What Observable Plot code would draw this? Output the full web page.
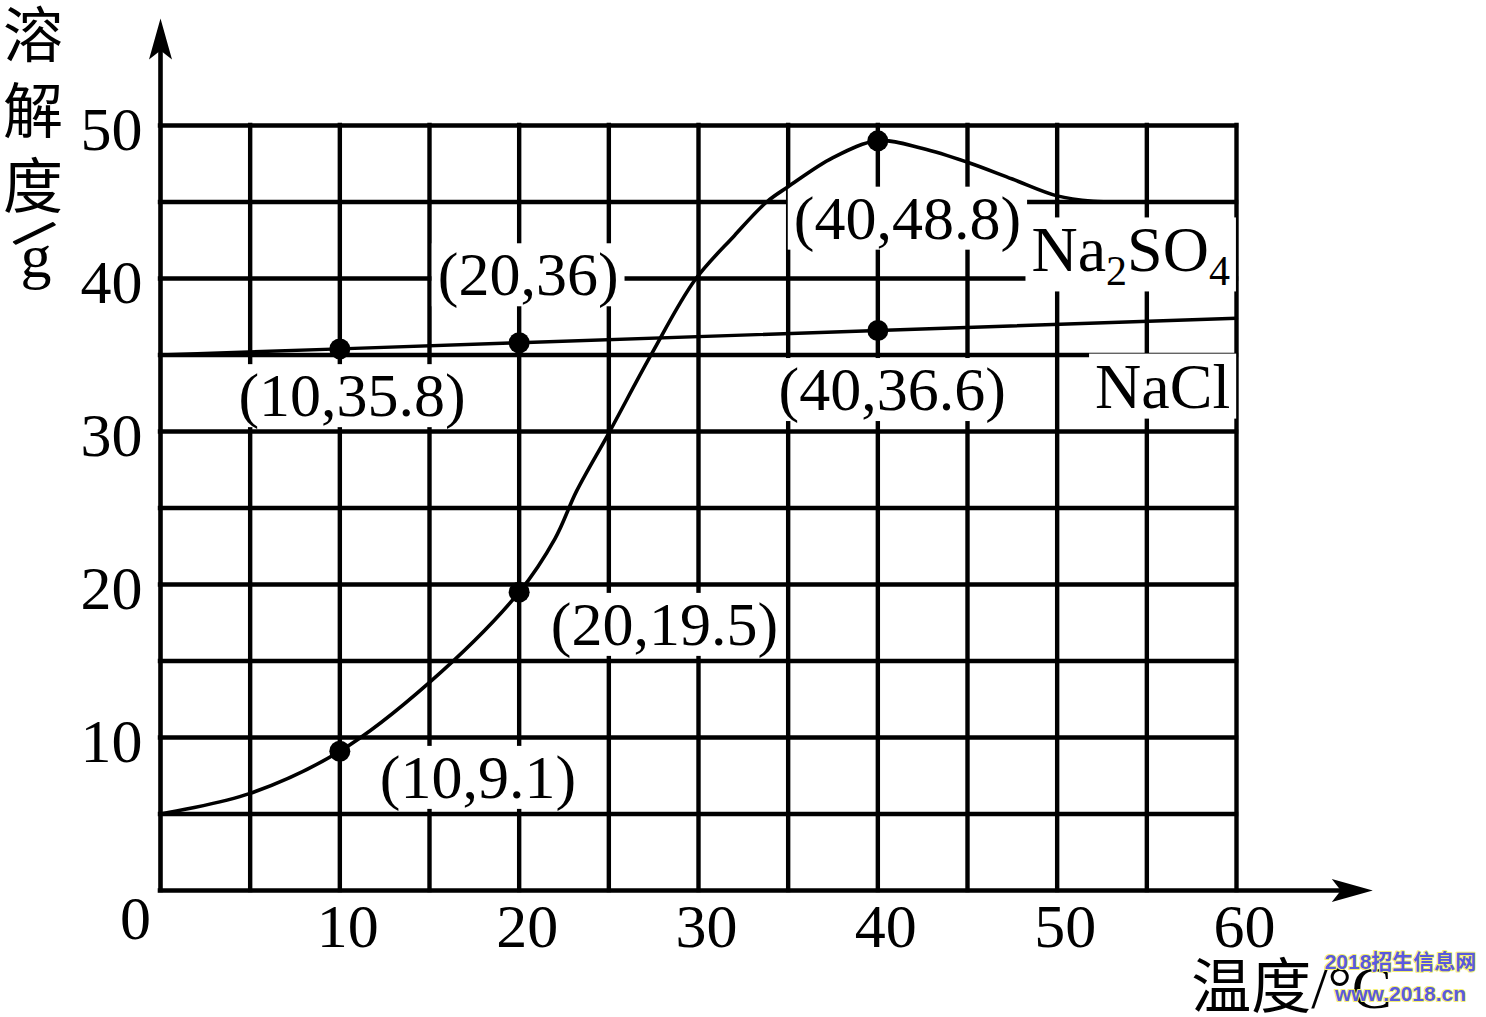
<!DOCTYPE html>
<html>
<head>
<meta charset="utf-8">
<script src="https://cdn.jsdelivr.net/npm/d3@7"></script>
<script src="https://cdn.jsdelivr.net/npm/@observablehq/plot@0.6"></script>
<style>
  html, body { margin: 0; padding: 0; background: #ffffff; }
  #chart svg { display: block; }
</style>
</head>
<body>
<div id="chart"></div>
<script>
// ---------- data ----------
const gridX = [5, 10, 15, 20, 25, 30, 35, 40, 45, 50, 55, 60];
const gridY = [5, 10, 15, 20, 25, 30, 35, 40, 45, 50];
const xTickLabels = [10, 20, 30, 40, 50, 60];
const yTickLabels = [10, 20, 30, 40, 50];

// Na2SO4 solubility curve (temperature °C, solubility g)
const na2so4Temp = [0, 5, 10, 15, 20, 22, 23.2, 25, 27.4, 29.8, 32, 33.8, 35, 37.5, 40, 42.5, 45, 47.5, 50, 52, 53.5];
const na2so4Sol  = [5.0, 6.35, 9.1, 13.6, 19.5, 23.0, 26.1, 29.9, 35.1, 39.9, 42.8, 45.0, 46.0, 47.9, 49.0, 48.5, 47.6, 46.5, 45.4, 45.05, 45.0];
const na2so4MarkTemp = [10, 20, 40];
const na2so4MarkSol  = [9.1, 19.5, 49.0];

// NaCl solubility line
const naclTemp = [0, 10, 20, 40, 60];
const naclSol  = [35.0, 35.4, 35.8, 36.6, 37.4];
const naclMarkTemp = [10, 20, 40];
const naclMarkSol  = [35.4, 35.8, 36.6];

// point annotations
const pointLabelText = ["(10,9.1)", "(20,19.5)", "(40,48.8)", "(10,35.8)", "(20,36)", "(40,36.6)"];
const pointLabelX    = [17.7, 28.1, 41.65, 10.68, 20.5, 40.8];
const pointLabelY    = [7.35, 17.35, 43.9, 32.3, 40.2, 32.7];

// series names
const seriesLabelText = ["Na2SO4", "NaCl"];
const seriesLabelX    = [54.1, 55.88];
const seriesLabelY    = [41.8, 32.9];

// axis arrow ends
const yArrowTip = 57.0;
const xArrowTip = 67.6;

// ---------- tables ----------
const na2so4 = na2so4Temp.map((t, i) => ({t, s: na2so4Sol[i]}));
const na2so4Marks = na2so4MarkTemp.map((t, i) => ({t, s: na2so4MarkSol[i]}));
const nacl = naclTemp.map((t, i) => ({t, s: naclSol[i]}));
const naclMarks = naclMarkTemp.map((t, i) => ({t, s: naclMarkSol[i]}));
const pointLabels = pointLabelText.map((text, i) => ({text, x: pointLabelX[i], y: pointLabelY[i]}));
const seriesLabels = seriesLabelText.map((text, i) => ({text, x: seriesLabelX[i], y: seriesLabelY[i]}));

const SERIF = "'Liberation Serif', 'Times New Roman', serif";
const MIXED = "'Liberation Serif', 'Noto Sans CJK SC', serif";
const CJK = "'Noto Sans CJK SC', sans-serif";

const arrowHead = {
  draw(ctx) {
    ctx.moveTo(0, 0);
    ctx.lineTo(-11.5, 41);
    ctx.lineTo(0, 32);
    ctx.lineTo(11.5, 41);
    ctx.closePath();
  }
};

const svg = Plot.plot({
  width: 1486,
  height: 1017,
  marginLeft: 160,
  marginRight: 250,
  marginTop: 125,
  marginBottom: 127,
  x: {domain: [0, 60], axis: null},
  y: {domain: [0, 50], axis: null},
  style: {background: "#ffffff", overflow: "visible"},
  marks: [
    // grid
    Plot.ruleX(gridX, {x: d => d, y1: 0, y2: 50, stroke: "#000", strokeWidth: 4.4, strokeLinecap: "square"}),
    Plot.ruleY(gridY, {y: d => d, x1: 0, x2: 60, stroke: "#000", strokeWidth: 4.4, strokeLinecap: "square"}),
    // axes with arrows
    Plot.ruleX([0], {x: d => d, y1: 0, y2: yArrowTip - 1, stroke: "#000", strokeWidth: 4.6, strokeLinecap: "square"}),
    Plot.ruleY([0], {y: d => d, x1: 0, x2: xArrowTip - 1, stroke: "#000", strokeWidth: 4.6, strokeLinecap: "square"}),
    Plot.dot([{x: 0, y: yArrowTip}], {x: "x", y: "y", symbol: arrowHead, r: 5, fill: "#000", stroke: null}),
    Plot.dot([{x: xArrowTip, y: 0}], {x: "x", y: "y", symbol: arrowHead, r: 5, fill: "#000", stroke: null, rotate: 90}),
    // tick labels
    Plot.text(xTickLabels, {x: d => d, frameAnchor: "bottom", text: d => String(d), textAnchor: "middle", dx: 8, dy: 37, lineAnchor: "middle", fontSize: 62, fontFamily: SERIF, fill: "#000"}),
    Plot.text(["0"], {frameAnchor: "bottom-left", text: d => d, textAnchor: "middle", dx: -25, dy: 29, lineAnchor: "middle", fontSize: 62, fontFamily: SERIF, fill: "#000"}),
    Plot.text(yTickLabels, {y: d => d, frameAnchor: "left", text: d => String(d), textAnchor: "end", dx: -18, dy: 5, lineAnchor: "middle", fontSize: 62, fontFamily: SERIF, fill: "#000"}),
    // y title
    Plot.text(["溶\n解\n度"], {frameAnchor: "top-left", text: d => d, textAnchor: "middle", dx: -127.5, dy: -17, lineAnchor: "middle", lineHeight: 1.2625, fontSize: 60, fontFamily: CJK, fill: "#000"}),
    Plot.text(["/"], {frameAnchor: "top-left", text: d => d, textAnchor: "middle", dx: -126.5, dy: 108, rotate: 45, lineAnchor: "middle", fontSize: 62, fontFamily: SERIF, fill: "#000", stroke: "#000", strokeWidth: 1.5}),
    Plot.text(["g"], {frameAnchor: "top-left", text: d => d, textAnchor: "middle", dx: -124.5, dy: 132, lineAnchor: "middle", fontSize: 62, fontFamily: SERIF, fill: "#000"}),
    // x title
    Plot.text(["温度/°C"], {frameAnchor: "bottom-right", text: d => d, textAnchor: "middle", dx: 55, dy: 98, lineAnchor: "middle", fontSize: 60, fontFamily: MIXED, fill: "#000"}),
    // annotations (white boxes added after render)
    Plot.text(pointLabels, {x: "x", y: "y", text: "text", textAnchor: "middle", lineAnchor: "middle", fontSize: 62, fontFamily: SERIF, fill: "#000"}),
    Plot.text(seriesLabels, {x: "x", y: "y", text: "text", textAnchor: "middle", lineAnchor: "middle", fontSize: 64, fontFamily: SERIF, fill: "#000"}),
    // curves
    Plot.line(nacl, {x: "t", y: "s", stroke: "#000", strokeWidth: 3.4}),
    Plot.line(na2so4, {x: "t", y: "s", stroke: "#000", strokeWidth: 3.6, curve: "catmull-rom"}),
    Plot.dot(naclMarks, {x: "t", y: "s", r: 10.5, fill: "#000", stroke: null}),
    Plot.dot(na2so4Marks, {x: "t", y: "s", r: 10.5, fill: "#000", stroke: null}),
    // watermark
    Plot.text(["2018招生信息网"], {frameAnchor: "bottom-right", text: d => d, textAnchor: "middle", dx: 164, dy: 72, lineAnchor: "middle", fontSize: 21, fontWeight: "bold", fontFamily: "'Liberation Sans', 'Noto Sans CJK SC', sans-serif", fill: "#4a4ae6", stroke: "#f4f070", strokeWidth: 2, paintOrder: "stroke", fillOpacity: 0.92}),
    Plot.text(["www.2018.cn"], {frameAnchor: "bottom-right", text: d => d, textAnchor: "middle", dx: 164, dy: 104, lineAnchor: "middle", fontSize: 21, fontWeight: "bold", fontFamily: "'Liberation Sans', sans-serif", fill: "#4a4ae6", stroke: "#f4f070", strokeWidth: 2, paintOrder: "stroke", fillOpacity: 0.92})
  ]
});

document.getElementById("chart").append(svg);

const NS = "http://www.w3.org/2000/svg";
const boxed = new Set([...pointLabelText, ...seriesLabelText]);
const targets = Array.from(svg.querySelectorAll("text")).filter(t => boxed.has(t.textContent));
// subscripts for Na2SO4
targets.forEach(t => {
  if (t.textContent === "Na2SO4") {
    t.textContent = "";
    const parts = [["Na", 0, null], ["2", 14, 42], ["SO", -14, null], ["4", 14, 42]];
    for (const [s, dy, fs] of parts) {
      const ts = document.createElementNS(NS, "tspan");
      ts.textContent = s;
      if (dy) ts.setAttribute("dy", dy);
      if (fs) ts.setAttribute("font-size", fs);
      t.append(ts);
    }
  }
});
// white boxes behind annotations
targets.forEach(t => {
  const b = t.getBBox();
  const r = document.createElementNS(NS, "rect");
  r.setAttribute("x", b.x - 6);
  r.setAttribute("y", b.y + 3);
  r.setAttribute("width", b.width + 12);
  r.setAttribute("height", b.height - 6);
  r.setAttribute("fill", "#ffffff");
  const tr = t.getAttribute("transform");
  if (tr) r.setAttribute("transform", tr);
  t.parentNode.insertBefore(r, t);
});
</script>
</body>
</html>
